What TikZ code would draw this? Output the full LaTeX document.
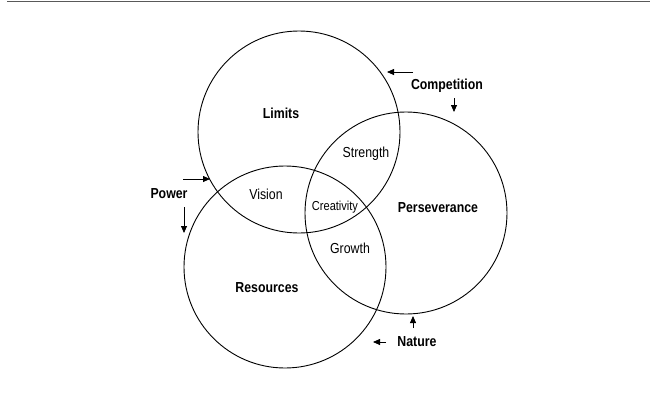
\documentclass[tikz,border=0pt]{standalone}
\usepackage{fontspec}
\setmainfont{Liberation Sans}[FakeStretch=0.85]
\usetikzlibrary{arrows.meta}

\begin{document}
\begin{tikzpicture}[x=1pt,y=-1pt,
    ring/.style={circle,draw,line width=0.9pt,minimum size=202pt,inner sep=0pt},
    big/.style={font=\fontsize{14.5}{16}\selectfont\bfseries,inner sep=0pt},
    small/.style={font=\fontsize{14.5}{16}\selectfont,inner sep=0pt},
    tiny/.style={font=\fontsize{13}{14}\selectfont,inner sep=0pt},
    push/.style={-{Triangle[length=7pt,width=6pt]},line width=0.8pt}]

\useasboundingbox (0,0) rectangle (657,413);
\draw[black!65,line width=1.8pt] (7,1.5)--(650,1.5);

%Circles====================================================================
\node[ring] (L) at (299,132) {};
\node[ring] (R) at (285,267) {};
\node[ring] (P) at (406,213) {};

\node[big] (limits) at (281,113) {Limits};
\node[big] (res) at (267,288) {Resources};
\node[big] (pers) at (438,208) {Perseverance};

\node[small] (vision) at (266,194) {Vision};
\node[small] (strength) at (366,154) {Strength};
\node[small] (growth) at (350,248) {Growth};
\node[tiny] (creat) at (335,207) {Creativity};
%=======================================================================

%Forces====================================================================
\node[big] (power) at (169,194) {Power};
\coordinate (pw1) at (183,179);
\coordinate (pw2) at (210,179);
\coordinate (pw3) at (184,207);
\coordinate (pw4) at (184,233);
\draw[push] (pw1)--(pw2);
\draw[push] (pw3)--(pw4);

\node[big] (comp) at (447,86) {Competition};
\coordinate (c1) at (413,72);
\coordinate (c2) at (387,72);
\coordinate (c3) at (454,98);
\coordinate (c4) at (454,112);
\draw[push] (c1)--(c2);
\draw[push] (c3)--(c4);

\node[big] (nature) at (417,342) {Nature};
\coordinate (n1) at (413,328);
\coordinate (n2) at (413,316);
\coordinate (n3) at (386,342);
\coordinate (n4) at (373,342);
\draw[push] (n1)--(n2);
\draw[push] (n3)--(n4);
%=======================================================================
\end{tikzpicture}
\end{document}
